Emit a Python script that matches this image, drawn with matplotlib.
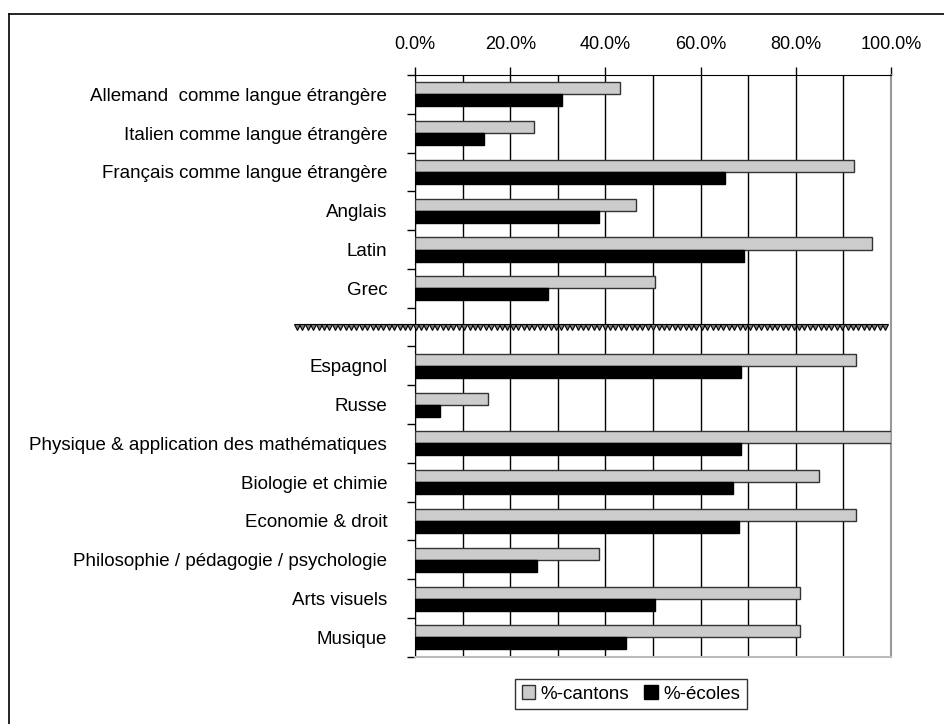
import numpy as np
import matplotlib.pyplot as plt
from matplotlib.lines import Line2D
from matplotlib.ticker import PercentFormatter

plt.rcParams['font.family'] = ['Liberation Sans', 'DejaVu Sans']

categories = [
    'Allemand  comme langue étrangère',
    'Italien comme langue étrangère',
    'Français comme langue étrangère',
    'Anglais',
    'Latin',
    'Grec',
    '',
    'Espagnol',
    'Russe',
    'Physique & application des mathématiques',
    'Biologie et chimie',
    'Economie & droit',
    'Philosophie / pédagogie / psychologie',
    'Arts visuels',
    'Musique',
]
pct_cantons = [43.1, 25.1, 92.2, 46.5, 96.1, 50.5, np.nan,
               92.7, 15.4, 100.0, 84.8, 92.7, 38.6, 80.8, 80.8]
pct_ecoles = [30.8, 14.4, 65.1, 38.7, 69.1, 27.9, np.nan,
              68.5, 5.3, 68.5, 66.8, 68.0, 25.6, 50.5, 44.3]
separator_row = 6

fig = plt.figure(figsize=(9.44, 7.24), dpi=100)
ax = fig.add_axes([415 / 944, 1 - 656.7 / 724, 476 / 944, 581.7 / 724])

y = np.arange(len(categories))
h = 0.31
ax.barh(y - h / 2, pct_cantons, height=h, color='#cccccc', edgecolor='#333333',
        linewidth=1, label='%-cantons', zorder=3)
ax.barh(y + h / 2, pct_ecoles, height=h, color='black', edgecolor='black',
        linewidth=1, label='%-écoles', zorder=3)

# dotted separator between language groups
xs = np.linspace(-24.8, 98.8, 110)
ax.plot(xs, [separator_row] * len(xs), ls='none', marker='v', ms=4,
        mfc='#777777', mec='black', mew=0.8, clip_on=False, zorder=4)

ax.set_xlim(0, 100)
ax.set_ylim(len(categories) - 0.5, -0.5)

# x axis on top
ax.xaxis.tick_top()
ax.set_xticks(np.arange(0, 101, 20))
ax.set_xticks(np.arange(0, 101, 10), minor=True)
ax.xaxis.set_major_formatter(PercentFormatter(decimals=1))
ax.tick_params(axis='x', which='major', length=6, width=1, color='black',
               labelsize=13, pad=10)
ax.tick_params(axis='x', which='minor', length=0)
ax.grid(axis='x', which='both', color='black', linewidth=1, zorder=1)

# y axis: labels at centres, ticks at boundaries
ax.set_yticks(y)
ax.set_yticklabels(categories)
ax.set_yticks(np.arange(-0.5, len(categories), 1), minor=True)
ax.tick_params(axis='y', which='major', length=0, labelsize=13.5, pad=20)
ax.tick_params(axis='y', which='minor', length=6, width=1, color='black')

ax.spines['top'].set_color('black')
ax.spines['left'].set_color('black')
ax.spines['right'].set_color('#999999')
ax.spines['right'].set_linewidth(1.5)
ax.spines['bottom'].set_color('#bbbbbb')
ax.spines['bottom'].set_linewidth(1.5)

leg = fig.legend(loc='center', bbox_to_anchor=(631 / 944, 1 - 694 / 724),
                 ncol=2, fontsize=13.5, frameon=True, fancybox=False,
                 edgecolor='black', handlelength=0.7, handleheight=0.7,
                 handletextpad=0.3, columnspacing=0.8, borderpad=0.35)
leg.get_frame().set_linewidth(1)

# outer frame (top and left visible)
fig.add_artist(Line2D([9 / 944, 1], [1 - 14 / 724] * 2, color='black', lw=1.2))
fig.add_artist(Line2D([9 / 944] * 2, [0, 1 - 14 / 724], color='black', lw=1.2))

fig.savefig('out.png', dpi=100)
